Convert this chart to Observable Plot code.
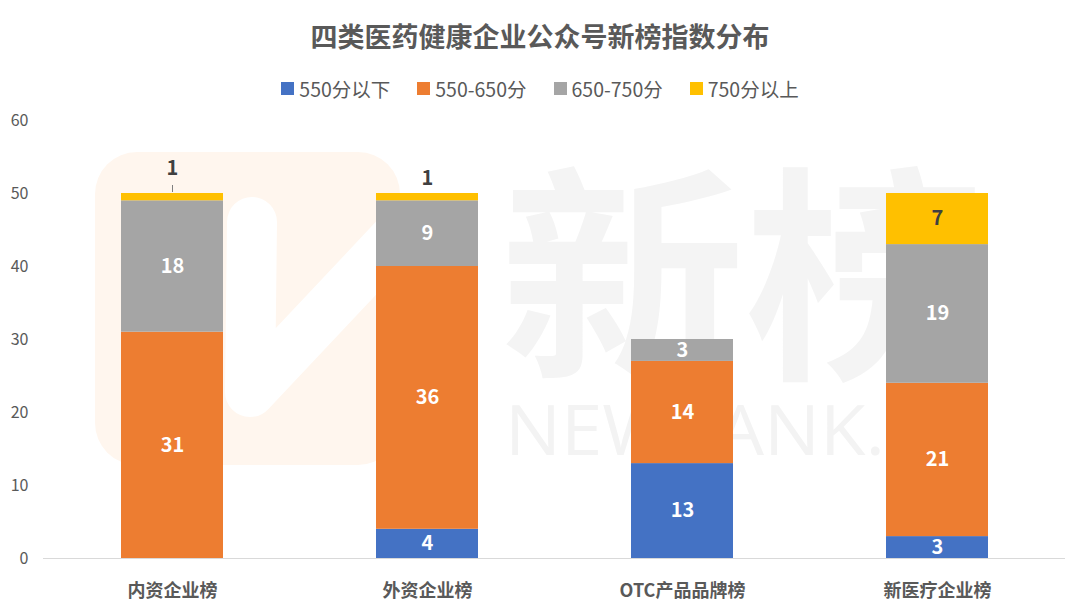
<!DOCTYPE html>
<html><head><meta charset="utf-8">
<script src="https://cdn.jsdelivr.net/npm/d3@7"></script>
<script src="https://cdn.jsdelivr.net/npm/@observablehq/plot@0.6"></script>
<style>
body{margin:0;background:#fff;font-family:"Noto Sans CJK SC","Noto Sans",sans-serif;}
#wrap{position:relative;width:1080px;height:616px;overflow:hidden;background:#fff;}
#wm{position:absolute;left:0;top:0;}
#content{position:relative;}
#title{height:52px;box-sizing:border-box;padding-top:19px;line-height:34px;text-align:center;font-size:27px;font-weight:bold;color:#595959;}
#legend{height:54px;box-sizing:border-box;padding-top:19px;line-height:24px;display:flex;justify-content:center;gap:27px;font-size:19.5px;color:#595959;}
#legend .item{display:flex;align-items:center;}
#legend .sw{width:13px;height:13px;margin-right:5px;}
</style>
</head><body>
<div id="wrap">
<svg id="wm" width="1080" height="616">
  <rect x="95" y="152" width="305" height="313" rx="42" fill="#fff6ee"/>
  <polyline points="252,222 250,392 395,238" fill="none" stroke="#fff" stroke-width="50" stroke-linecap="round" stroke-linejoin="round"/>
  <text x="500" y="362" font-size="228" font-weight="bold" fill="#f4f4f4" textLength="490" lengthAdjust="spacingAndGlyphs" font-family="Noto Sans CJK SC">新榜</text>
  <text x="505" y="455" font-size="70" fill="#f3f3f3" textLength="380" lengthAdjust="spacingAndGlyphs" font-family="Open Sans">NEWRANK.</text>
</svg>
<div id="content">
  <div id="title">四类医药健康企业公众号新榜指数分布</div>
  <div id="legend"></div>
  <div id="chart"></div>
</div>
</div>
<script>
const categories = ["内资企业榜", "外资企业榜", "OTC产品品牌榜", "新医疗企业榜"];
const seriesNames = ["550分以下", "550-650分", "650-750分", "750分以上"];
const below550 = [0, 4, 13, 3];
const s550to650 = [31, 36, 14, 21];
const s650to750 = [18, 9, 3, 19];
const above750 = [1, 1, 0, 7];
const yTicks = [0, 10, 20, 30, 40, 50, 60];
const colors = ["#4472C4", "#ED7D31", "#A5A5A5", "#FFC000"];

const seriesValues = [below550, s550to650, s650to750, above750];
const stacked = [];
categories.forEach((c, i) => {
  let acc = 0;
  seriesValues.forEach((vals, s) => {
    const v = vals[i];
    if (v > 0) {
      stacked.push({category: c, series: seriesNames[s], value: v, y1: acc, y2: acc + v});
      acc += v;
    }
  });
});
const mid = d => (d.y1 + d.y2) / 2;
const isTop = d => d.series === seriesNames[3];

// legend
const leg = document.getElementById("legend");
seriesNames.forEach((s, i) => {
  const it = document.createElement("div");
  it.className = "item";
  it.innerHTML = `<span class="sw" style="background:${colors[i]}"></span><span>${s}</span>`;
  leg.appendChild(it);
});

const chart = Plot.plot({
  width: 1080,
  height: 510,
  marginTop: 14,
  marginBottom: 58,
  marginLeft: 43,
  marginRight: 15,
  style: {background: "transparent", fontFamily: "'Noto Sans CJK SC', sans-serif"},
  x: {domain: categories, paddingInner: 0.6, paddingOuter: 0.3, label: null},
  y: {domain: [0, 60], label: null},
  color: {domain: seriesNames, range: colors},
  marks: [
    Plot.barY(stacked, {x: "category", y1: "y1", y2: "y2", fill: "series"}),
    Plot.ruleY([0], {stroke: "#d9d9d9", strokeWidth: 1.2}),
    Plot.axisY({ticks: yTicks, tickSize: 0, tickPadding: 15, fontSize: 16, color: "#595959", label: null}),
    Plot.axisX({tickSize: 0, tickPadding: 26, fontSize: 18, fontWeight: "bold", color: "#595959", label: null}),
    Plot.text(stacked.filter(d => !isTop(d)), {x: "category", y: mid, text: "value", fill: "white", fontSize: 20, fontWeight: "bold"}),
    Plot.text(stacked.filter(d => isTop(d) && d.value > 1), {x: "category", y: mid, text: "value", fill: "#404040", fontSize: 20, fontWeight: "bold"}),
    Plot.text(stacked.filter(d => isTop(d) && d.value === 1 && d.category === categories[0]), {x: "category", y: "y2", text: "value", fill: "#404040", fontSize: 20, fontWeight: "bold", dy: -25}),
    Plot.text(stacked.filter(d => isTop(d) && d.value === 1 && d.category === categories[1]), {x: "category", y: "y2", text: "value", fill: "#404040", fontSize: 20, fontWeight: "bold", dy: -15}),
    Plot.ruleX(stacked.filter(d => isTop(d) && d.value === 1 && d.category === categories[0]), {x: "category", y1: "y2", y2: "y2", insetBottom: 7, stroke: "#7f7f7f", strokeWidth: 1, dy: -1})
  ]
});
document.getElementById("chart").appendChild(chart);
</script>
</body></html>
